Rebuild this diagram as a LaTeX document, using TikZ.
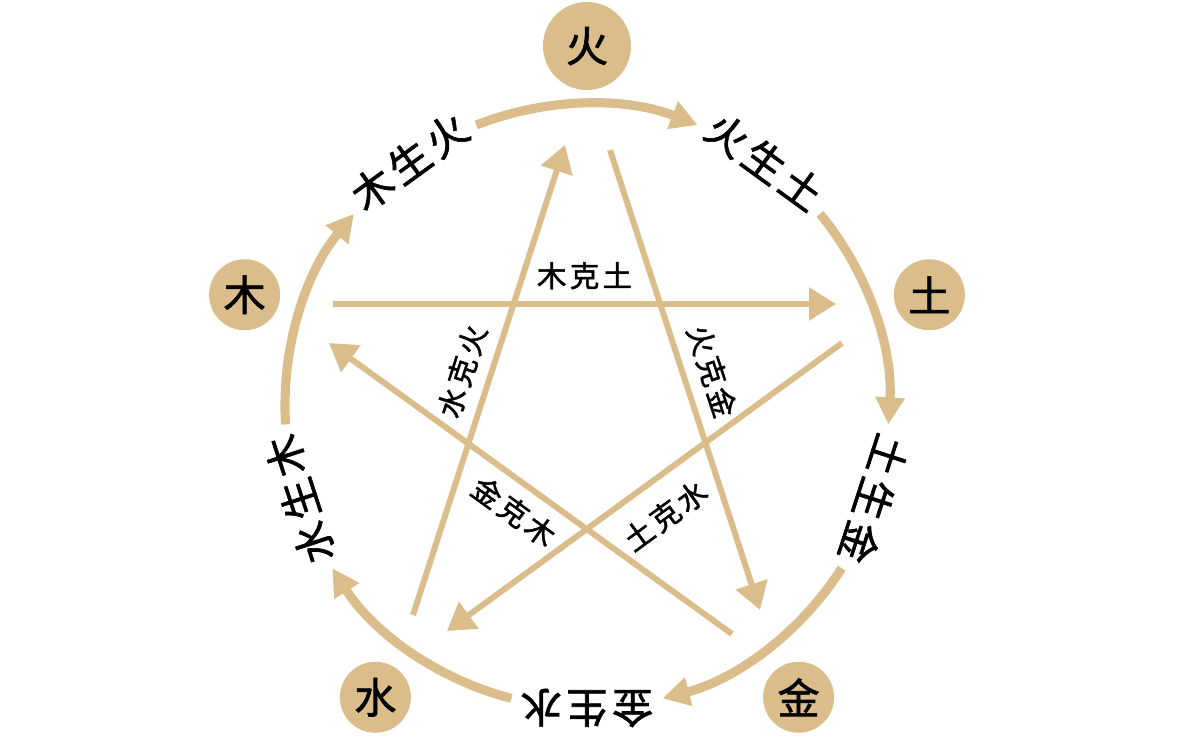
\documentclass[tikz,border=0pt]{standalone}
\usepackage{fontspec}
\newfontfamily\cjk[LetterSpace=11, FakeBold=1.5]{Noto Sans CJK SC}
\usepackage{tikz}
\usetikzlibrary{arrows.meta}
\definecolor{wxtan}{RGB}{218,189,139}

\begin{document}
\begin{tikzpicture}[
elem/.style={circle, fill=wxtan, inner sep=0pt, font=\cjk\fontsize{12}{14}\selectfont},
sheng/.style={wxtan, line width=2.6pt, -{Triangle[length=2.7mm, width=2.8mm]}},
ke/.style={wxtan, line width=1.7pt, -{Triangle[length=2.7mm, width=3.2mm]}},
shenglabel/.style={font=\cjk\fontsize{11.7}{14}\selectfont, inner sep=0pt},
kelabel/.style={text=black, font=\cjk\fontsize{8.4}{10}\selectfont, sloped}]
\useasboundingbox (-5.87,-3.29) rectangle (6.05,4.06);

\foreach \name/\a/\size/\txt in {huo/90/8.8mm/火, tu/18/7.1mm/土, jin/-54/7.1mm/金, shui/-126/7.1mm/水, mu/162/7.1mm/木}{
\node[elem, minimum size=\size] (\name) at (\a:3.6) {\txt};
\coordinate (\name-arc) at (\a+21.5:3.02);
}

\coordinate (mu-out) at (-2.54,1.02);
\coordinate (huo-out) at (0.23,2.56);
\coordinate (shui-out) at (-1.74,-2.09);
\coordinate (tu-out) at (2.55,0.63);
\coordinate (jin-out) at (1.45,-2.28);
\coordinate (tu-in) at (2.49,1.02);
\coordinate (jin-in) at (1.73,-2.04);
\coordinate (huo-in) at (-0.22,2.61);
\coordinate (shui-in) at (-1.40,-2.25);
\coordinate (mu-in) at (-2.58,0.63);

\foreach \name/\a/\txt in {huo/90/木生火, tu/18/火生土, jin/-54/土生金, shui/-126/金生水, mu/162/水生木}{
\draw[sheng] (\name-arc) arc[start angle=\a+21.5, end angle=\a-21.5, radius=3.02];
\node[shenglabel, rotate=\a-54] (\name-sheng) at (\a+36:3.02) {\txt};
}

\foreach \from/\to/\side/\gap/\txt in {mu/tu/above/0pt/木克土, huo/jin/above/0pt/火克金, shui/huo/above/0pt/水克火, tu/shui/below/2pt/土克水, jin/mu/below/0pt/金克木}
\draw[ke] (\from-out) -- node[kelabel, \side=\gap] (\from-ke) {\txt} (\to-in);

\end{tikzpicture}
\end{document}
